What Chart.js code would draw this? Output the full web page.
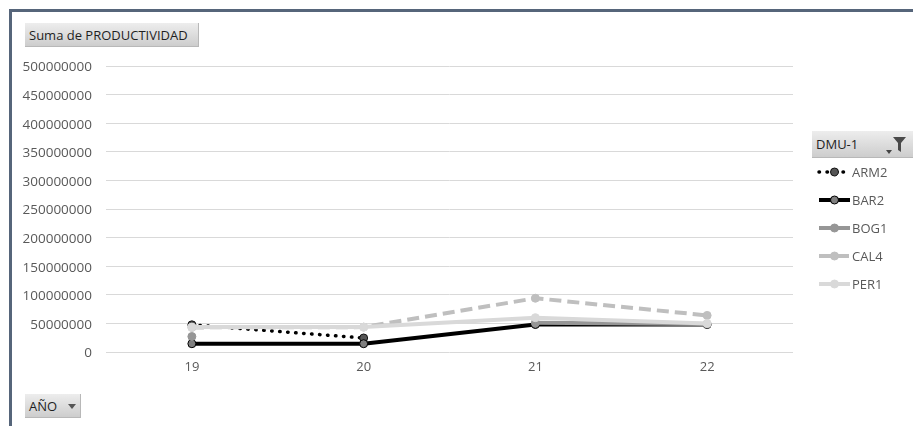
<!DOCTYPE html>
<html>
<head>
<meta charset="utf-8">
<script src="https://cdn.jsdelivr.net/npm/chart.js@4.4.1/dist/chart.umd.min.js"></script>
<style>
  html, body { margin: 0; padding: 0; background: #fff; }
  #wrap { position: relative; width: 913px; height: 426px; overflow: hidden; font-family: "Open Sans", sans-serif; }
  #frame { position: absolute; left: 9px; top: 9px; width: 1000px; height: 1000px;
           border-left: 3px solid #56657a; border-top: 3px solid #56657a; }
  #chart { position: absolute; left: 0; top: 0; }
  .btn { position: absolute; box-sizing: border-box; background: linear-gradient(#ededed, #cdcdcd);
         border-right: 1px solid #b8b8b8; border-bottom: 1px solid #b8b8b8;
         color: #1f1f1f; font-size: 13px; line-height: 24px; padding-left: 4px; white-space: nowrap; z-index: 2; }
  .btn svg { position: absolute; }
</style>
</head>
<body>
<div id="wrap">
  <div id="frame"></div>
  <canvas id="chart" width="913" height="426"></canvas>
  <div class="btn" style="left:25px;top:23px;width:174px;height:24px;">Suma de PRODUCTIVIDAD</div>
  <div class="btn" style="left:25px;top:394px;width:56px;height:24px;">AÑO
    <svg width="8" height="5" style="left:43px;top:10px;"><path d="M0 0 L8 0 L4 5 Z" fill="#555"/></svg>
  </div>
  <div class="btn" style="left:812px;top:131px;width:110px;height:27px;line-height:27px;">DMU-1
    <svg width="6" height="4" style="left:74px;top:19px;"><path d="M0 0 L6 0 L3 4 Z" fill="#444"/></svg>
    <svg width="13" height="15" style="left:81px;top:6px;"><path d="M0 0 L13 0 L8 6 L8 15 L5 13 L5 6 Z" fill="#4a4a4a"/></svg>
  </div>
</div>
<script>
// Year categories along the x axis
const years = ['19', '20', '21', '22'];

// Series names (DMU-1)
const seriesNames = ['ARM2', 'BAR2', 'BOG1', 'CAL4', 'PER1'];

// Suma de PRODUCTIVIDAD per DMU and year (null = no value for that year)
const arm2 = [47500000, 24500000, null, null];
const bar2 = [14500000, 14500000, 48000000, 48000000];
const bog1 = [27000000, null, 51000000, 49000000];
const cal4 = [43000000, 43500000, 94000000, 64000000];
const per1 = [43500000, 43500000, 60000000, 50000000];

// Value axis ticks
const yTicks = [0, 50000000, 100000000, 150000000, 200000000, 250000000,
                300000000, 350000000, 400000000, 450000000, 500000000];

const FONT = '"Open Sans", sans-serif';

const styles = [
  { color: '#000000', width: 3.5, dash: [0.5, 7.5], cap: 'round', pFill: '#555555', pBorder: '#111111' },
  { color: '#000000', width: 4,   dash: [],         cap: 'butt',  pFill: '#7f7f7f', pBorder: '#000000' },
  { color: '#969696', width: 4,   dash: [],         cap: 'butt',  pFill: '#969696', pBorder: '#969696' },
  { color: '#bfbfbf', width: 4,   dash: [12, 6],    cap: 'butt',  pFill: '#bfbfbf', pBorder: '#bfbfbf' },
  { color: '#d9d9d9', width: 4,   dash: [],         cap: 'butt',  pFill: '#d9d9d9', pBorder: '#d9d9d9' }
];
const seriesData = [arm2, bar2, bog1, cal4, per1];

// Later series are painted over earlier ones
const datasets = seriesNames.map((name, i) => ({
  label: name,
  data: seriesData[i],
  borderColor: styles[i].color,
  borderWidth: styles[i].width,
  borderDash: styles[i].dash,
  borderCapStyle: styles[i].cap,
  borderJoinStyle: 'round',
  pointRadius: 4,
  pointHoverRadius: 4,
  pointBackgroundColor: styles[i].pFill,
  pointBorderColor: styles[i].pBorder,
  pointBorderWidth: 1,
  tension: 0,
  spanGaps: false,
  order: seriesNames.length - i
}));

// Legend drawn at the right of the plot, in series order
const sideLegend = {
  id: 'sideLegend',
  afterDraw(chart) {
    const ctx = chart.ctx;
    chart.data.datasets.forEach((ds, i) => {
      const y = 172 + 28 * i;
      ctx.save();
      ctx.strokeStyle = ds.borderColor;
      ctx.lineWidth = ds.borderWidth;
      ctx.setLineDash(ds.borderDash);
      ctx.lineCap = ds.borderCapStyle;
      ctx.beginPath();
      ctx.moveTo(819, y);
      ctx.lineTo(850, y);
      ctx.stroke();
      ctx.setLineDash([]);
      ctx.beginPath();
      ctx.arc(834.5, y, 4, 0, Math.PI * 2);
      ctx.fillStyle = ds.pointBackgroundColor;
      ctx.fill();
      ctx.lineWidth = 1;
      ctx.strokeStyle = ds.pointBorderColor;
      ctx.stroke();
      ctx.fillStyle = '#595959';
      ctx.font = '13px ' + FONT;
      ctx.textAlign = 'left';
      ctx.textBaseline = 'middle';
      ctx.fillText(ds.label, 852, y + 1);
      ctx.restore();
    });
  }
};

new Chart(document.getElementById('chart'), {
  type: 'line',
  data: { labels: years, datasets },
  options: {
    responsive: false,
    animation: false,
    events: [],
    layout: { padding: { left: 10, right: 120, top: 66, bottom: 44 } },
    plugins: { legend: { display: false }, tooltip: { enabled: false } },
    scales: {
      x: {
        type: 'category',
        offset: true,
        grid: { display: false, drawTicks: false },
        border: { display: false },
        ticks: { color: '#595959', font: { family: FONT, size: 13 }, padding: 7, maxRotation: 0 },
        afterFit(scale) { scale.height = 30; }
      },
      y: {
        min: 0,
        max: 500000000,
        afterBuildTicks(scale) { scale.ticks = yTicks.map(v => ({ value: v })); },
        grid: { color: '#d9d9d9', lineWidth: 1, drawTicks: false },
        border: { display: false },
        ticks: { color: '#595959', font: { family: FONT, size: 13.5 }, padding: 14, labelOffset: 1.5,
                 callback: v => String(v) },
        afterFit(scale) { scale.width = 96; }
      }
    }
  },
  plugins: [sideLegend]
});
</script>
</body>
</html>
